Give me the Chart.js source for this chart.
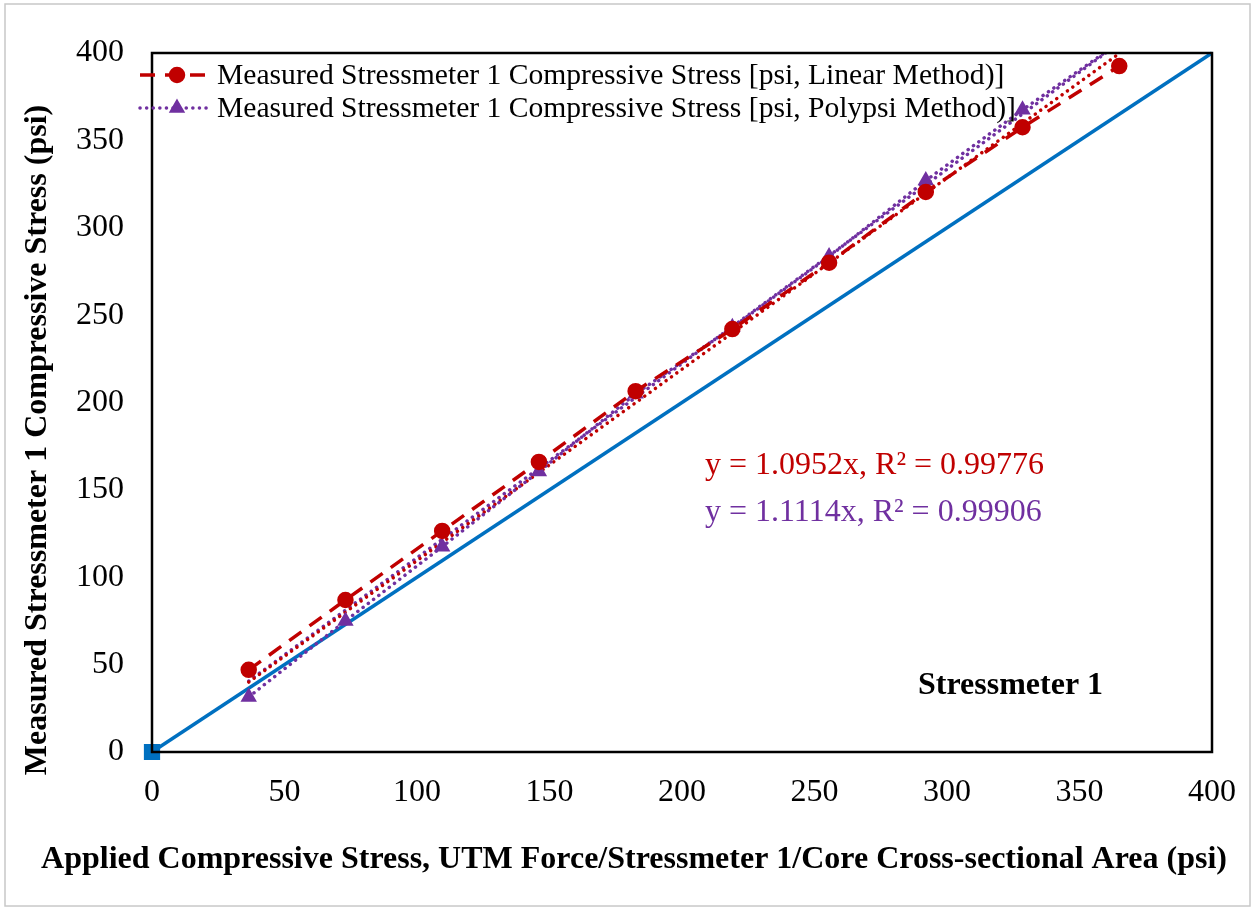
<!DOCTYPE html>
<html>
<head>
<meta charset="utf-8">
<title>Stressmeter 1</title>
<script src="https://cdn.jsdelivr.net/npm/chart.js@4/dist/chart.umd.min.js"></script>
<style>
  html, body { margin: 0; padding: 0; background: #fff; }
  #wrap { position: relative; width: 1257px; height: 909px; }
</style>
</head>
<body>
<div id="wrap"><canvas id="chart" width="1257" height="909"></canvas></div>
<script>
// ---- data ----
const xApplied = [36.5, 73, 109.5, 146, 182.5, 219, 255.5, 292, 328.5, 365];
const linearStress = [47, 87, 126.5, 166, 206.5, 242, 280, 320.5, 357.5, 392.5];
const polypsiStress = [31.5, 75, 117.5, 160.5, 205, 243, 283.5, 327, 367.5, 406];

// trendline ends (Excel draws them over the data range only)
const trendX = [36.5, 365];
const linearTrendY = [40.0, 399.7];
const polypsiTrendY = [40.6, 405.7];

// 1:1 reference line
const equalityX = [0, 400];
const equalityY = [0, 400];

const axisMin = 0;
const axisMax = 400;
const axisStep = 50;

const seriesLabels = [
  "Measured Stressmeter 1 Compressive Stress [psi, Linear Method)]",
  "Measured Stressmeter 1 Compressive Stress [psi, Polypsi Method)]",
];
const equationLabels = ["y = 1.0952x, R² = 0.99776", "y = 1.1114x, R² = 0.99906"];

const RED = "#C00000";
const PURPLE = "#7030A0";
const BLUE = "#0070C0";
const FONT = "'Liberation Serif', 'Times New Roman', serif";

const pts = (xs, ys) => xs.map((x, i) => ({ x, y: ys[i] }));

// frame, legend and text boxes drawn on top of the chart
const decorations = {
  id: "decorations",
  afterDraw(chart) {
    const ctx = chart.ctx;
    const a = chart.chartArea;
    ctx.save();

    // outer light border
    ctx.strokeStyle = "#c8c8c8";
    ctx.lineWidth = 1.5;
    ctx.strokeRect(5, 4, 1245, 902);

    // plot area box
    ctx.strokeStyle = "#000";
    ctx.lineWidth = 2.5;
    ctx.strokeRect(a.left, a.top, a.right - a.left, a.bottom - a.top);

    // legend
    const rows = [
      { ds: chart.data.datasets[0], y: 75 },
      { ds: chart.data.datasets[1], y: 108 },
    ];
    rows.forEach((r, i) => {
      ctx.save();
      ctx.strokeStyle = r.ds.borderColor;
      ctx.lineWidth = r.ds.borderWidth;
      ctx.lineCap = r.ds.borderCapStyle || "butt";
      ctx.setLineDash(r.ds.borderDash || []);
      ctx.beginPath();
      ctx.moveTo(140, r.y);
      ctx.lineTo(212, r.y);
      ctx.stroke();
      ctx.setLineDash([]);
      ctx.fillStyle = r.ds.pointBackgroundColor;
      ctx.strokeStyle = r.ds.pointBorderColor;
      Chart.helpers.drawPoint(ctx, {
        pointStyle: r.ds.pointStyle, radius: r.ds.pointRadius, rotation: 0, borderWidth: 1,
      }, 177, r.y);
      ctx.restore();
      ctx.fillStyle = "#000";
      ctx.font = "29.6px " + FONT;
      ctx.textAlign = "left";
      ctx.textBaseline = "middle";
      ctx.fillText(seriesLabels[i], 217, r.y + 1);
    });

    // trendline equations
    ctx.textAlign = "left";
    ctx.textBaseline = "alphabetic";
    ctx.font = "32px " + FONT;
    ctx.fillStyle = RED;
    ctx.fillText(equationLabels[0], 705, 474);
    ctx.fillStyle = PURPLE;
    ctx.fillText(equationLabels[1], 705, 521);

    // panel tag
    ctx.fillStyle = "#000";
    ctx.font = "bold 32px " + FONT;
    ctx.fillText("Stressmeter 1", 918, 694);

    // axis titles
    ctx.font = "bold 32px " + FONT;
    ctx.textAlign = "center";
    ctx.fillText("Applied Compressive Stress, UTM Force/Stressmeter 1/Core Cross-sectional Area (psi)", 634, 868);
    ctx.translate(46, 440);
    ctx.rotate(-Math.PI / 2);
    ctx.fillText("Measured Stressmeter 1 Compressive Stress (psi)", 0, 0);

    ctx.restore();
  },
};

new Chart(document.getElementById("chart"), {
  type: "scatter",
  data: {
    datasets: [
      {
        label: seriesLabels[0],
        data: pts(xApplied, linearStress),
        showLine: true,
        borderColor: RED,
        borderWidth: 3.5,
        borderDash: [15, 10],
        pointStyle: "circle",
        pointRadius: 6.5,
        pointBackgroundColor: RED,
        pointBorderColor: RED,
      },
      {
        label: seriesLabels[1],
        data: pts(xApplied, polypsiStress),
        showLine: true,
        borderColor: PURPLE,
        borderWidth: 3.5,
        borderDash: [0.1, 6.5],
        borderCapStyle: "round",
        pointStyle: "triangle",
        pointRadius: 6,
        pointBackgroundColor: PURPLE,
        pointBorderColor: PURPLE,
      },
      {
        label: "Linear trend",
        data: pts(trendX, linearTrendY),
        showLine: true,
        borderColor: RED,
        borderWidth: 3.5,
        borderDash: [0.1, 6.5],
        borderCapStyle: "round",
        pointRadius: 0,
      },
      {
        label: "Polypsi trend",
        data: pts(trendX, polypsiTrendY),
        showLine: true,
        borderColor: PURPLE,
        borderWidth: 3.5,
        borderDash: [0.1, 6.5],
        borderCapStyle: "round",
        pointRadius: 0,
      },
      {
        label: "1:1",
        data: pts(equalityX, equalityY),
        showLine: true,
        borderColor: BLUE,
        borderWidth: 3.5,
        pointStyle: "rect",
        pointRadius: [9, 0],
        pointBackgroundColor: BLUE,
        pointBorderColor: BLUE,
        clip: false,
      },
    ],
  },
  options: {
    responsive: false,
    animation: false,
    layout: { padding: { top: 53, right: 43, left: 0, bottom: 0 } },
    plugins: { legend: { display: false }, tooltip: { enabled: false } },
    scales: {
      x: {
        type: "linear",
        min: axisMin,
        max: axisMax,
        ticks: { stepSize: axisStep, color: "#000", font: { family: FONT, size: 32 }, padding: 21, maxRotation: 0 },
        grid: { display: false, drawTicks: false },
        border: { display: false },
        afterFit: (s) => { s.height = 157; },
      },
      y: {
        type: "linear",
        min: axisMin,
        max: axisMax,
        ticks: { stepSize: axisStep, color: "#000", font: { family: FONT, size: 32 }, padding: 28 },
        grid: { display: false, drawTicks: false },
        border: { display: false },
        afterFit: (s) => { s.width = 152; },
      },
    },
  },
  plugins: [decorations],
});
</script>
</body>
</html>
